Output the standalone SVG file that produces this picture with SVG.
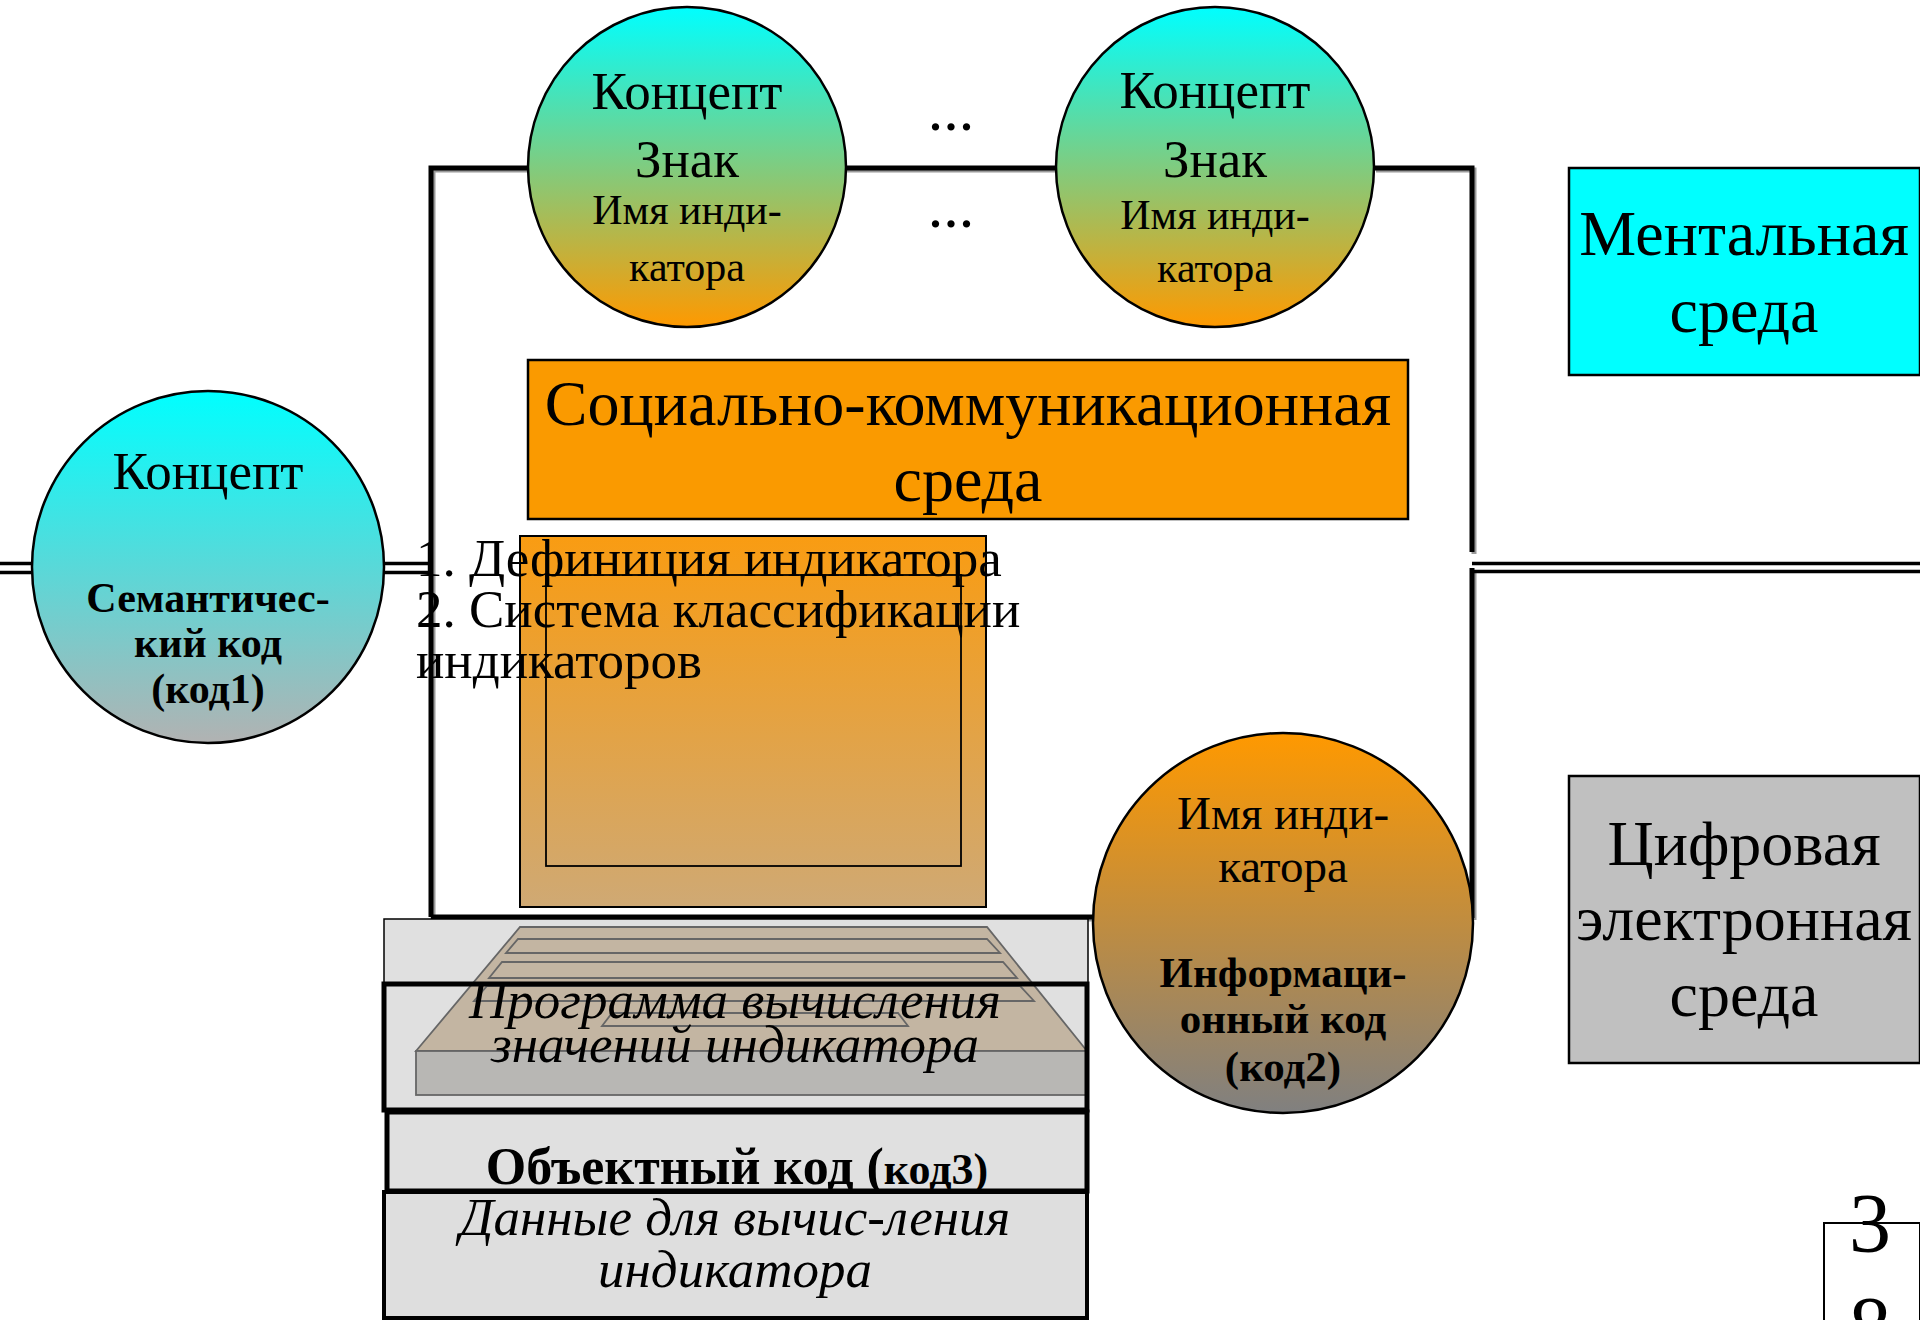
<svg xmlns="http://www.w3.org/2000/svg" width="1920" height="1320" viewBox="0 0 1920 1320">
<defs>
<linearGradient id="gTop" x1="0" y1="0" x2="0" y2="1"><stop offset="0" stop-color="#00FFFF"/><stop offset="1" stop-color="#FF9900"/></linearGradient>
<linearGradient id="gLeft" x1="0" y1="0" x2="0" y2="1"><stop offset="0" stop-color="#00FFFF"/><stop offset="1" stop-color="#B2B2B2"/></linearGradient>
<linearGradient id="gBot" x1="0" y1="0" x2="0" y2="1"><stop offset="0" stop-color="#FF9900"/><stop offset="1" stop-color="#808080"/></linearGradient>
<linearGradient id="gScreen" x1="0" y1="0" x2="0" y2="1"><stop offset="0" stop-color="#F99C12"/><stop offset="1" stop-color="#CFA974"/></linearGradient>
<style>
text{font-family:"Liberation Serif","Times New Roman",serif;fill:#000;}
.c{text-anchor:middle;}
.b{font-weight:bold;}
.i{font-style:italic;}
.frame{fill:none;stroke:#000;stroke-width:5;}
.shadow{fill:none;stroke:#9A9A9A;stroke-width:5;}
.dbl{fill:none;stroke:#000;stroke-width:3.5;}
.node{stroke:#000;stroke-width:2.5;}
.key{fill:#C3B5A2;stroke:#666;stroke-width:1.8;}
.thick{fill:none;stroke:#000;stroke-width:5;}
</style>
</defs>

<g id="connectors">
<path class="shadow" transform="translate(2,2)" d="M431,917 V168 H528 M845,168 H1056 M1374,168 H1472 V552 M1472,568 V918 M431,917 H1093"/>
<path class="frame" d="M431,917 V168 H528 M845,168 H1056 M1374,168 H1472 V552 M1472,568 V918 M431,917 H1093"/>
<path class="dbl" d="M0,563.5 H32 M0,572.5 H32 M384,563.5 H430 M384,572.5 H430 M1472,563.5 H1920 M1472,571.5 H1920"/>
</g>

<g id="dots">
<text class="c" x="951" y="130" font-size="62">...</text>
<text class="c" x="951" y="227" font-size="62">...</text>
</g>

<g id="concept-sign-1">
<ellipse class="node" cx="687" cy="167" rx="159" ry="160" fill="url(#gTop)"/>
<text class="c" x="687" y="109" font-size="53">Концепт</text>
<text class="c" x="687" y="177" font-size="53">Знак</text>
<text class="c" x="687" y="224" font-size="42">Имя инди-</text>
<text class="c" x="687" y="281" font-size="42">катора</text>
</g>

<g id="concept-sign-2">
<ellipse class="node" cx="1215" cy="167" rx="159" ry="160" fill="url(#gTop)"/>
<text class="c" x="1215" y="108" font-size="53">Концепт</text>
<text class="c" x="1215" y="177" font-size="53">Знак</text>
<text class="c" x="1215" y="229" font-size="42">Имя инди-</text>
<text class="c" x="1215" y="282" font-size="42">катора</text>
</g>

<g id="mental">
<rect x="1569" y="168" width="351" height="207" fill="#00FFFF" stroke="#000" stroke-width="2.5"/>
<text class="c" x="1744" y="255" font-size="64">Ментальная</text>
<text class="c" x="1744" y="332" font-size="64">среда</text>
</g>

<g id="social">
<rect x="528" y="360" width="880" height="159" fill="#FA9A00" stroke="#000" stroke-width="2.5"/>
<text class="c" x="968" y="425" font-size="64">Социально-коммуникационная</text>
<text class="c" x="968" y="501" font-size="64">среда</text>
</g>

<g id="semantic">
<ellipse class="node" cx="208" cy="567" rx="176" ry="176" fill="url(#gLeft)"/>
<text class="c" x="208" y="489" font-size="53">Концепт</text>
<text class="c b" x="208" y="612" font-size="42">Семантичес-</text>
<text class="c b" x="208" y="657" font-size="42">кий код</text>
<text class="c b" x="208" y="703" font-size="42">(код1)</text>
</g>

<g id="screen">
<rect x="520" y="536" width="466" height="371" fill="url(#gScreen)" stroke="#000" stroke-width="2"/>
<rect x="546" y="575" width="415" height="291" fill="none" stroke="#000" stroke-width="1.8"/>
</g>

<g id="definition">
<text x="416" y="576" font-size="53">1. Дефиниция индикатора</text>
<text x="416" y="627" font-size="53">2. Система классификации</text>
<text x="416" y="678" font-size="53">индикаторов</text>
</g>

<g id="program">
<rect x="384" y="919" width="704" height="191" fill="#E0E0E0" stroke="#000" stroke-width="1.5"/>
<polygon class="key" points="520,927 987,927 1087,1051 416,1051"/>
<rect class="key" x="416" y="1051" width="671" height="44" style="fill:#B8B7B4"/>
<polygon class="key" points="518,939 987,939 1000,953 506,953"/>
<polygon class="key" points="502,962 1003,962 1017,978 489,978"/>
<polygon class="key" points="487,986 1020,986 1034,1001 474,1001"/>
<polygon class="key" points="612,1013 898,1013 908,1026 602,1026"/>
<rect class="thick" x="384" y="984" width="703" height="126"/>
<text class="c i" x="735" y="1018" font-size="53">Программа вычисления</text>
<text class="c i" x="735" y="1062" font-size="53">значений индикатора</text>
</g>

<g id="object-code">
<rect x="387" y="1112" width="700" height="79" fill="#E0E0E0" stroke="#000" stroke-width="5"/>
<text class="c b" x="737" y="1184" font-size="52">Объектный код (<tspan font-size="44">код3)</tspan></text>
</g>

<g id="data">
<rect x="384" y="1192" width="703" height="126" fill="#DEDEDE" stroke="#000" stroke-width="4"/>
<text class="c i" x="735" y="1235" font-size="53">Данные для вычис-ления</text>
<text class="c i" x="735" y="1287" font-size="53">индикатора</text>
</g>

<g id="info-code">
<ellipse class="node" cx="1283" cy="923" rx="190" ry="190" fill="url(#gBot)"/>
<text class="c" x="1283" y="829" font-size="47">Имя инди-</text>
<text class="c" x="1283" y="882" font-size="47">катора</text>
<text class="c b" x="1283" y="987" font-size="43">Информаци-</text>
<text class="c b" x="1283" y="1033" font-size="43">онный код</text>
<text class="c b" x="1283" y="1081" font-size="43">(код2)</text>
</g>

<g id="digital">
<rect x="1569" y="776" width="351" height="287" fill="#C0C0C0" stroke="#000" stroke-width="2.5"/>
<text class="c" x="1744" y="865" font-size="64">Цифровая</text>
<text class="c" x="1744" y="940" font-size="64">электронная</text>
<text class="c" x="1744" y="1016" font-size="64">среда</text>
</g>

<g id="page-number">
<rect x="1824" y="1223" width="96" height="100" fill="none" stroke="#000" stroke-width="2"/>
<text class="c" x="1870" y="1252" font-size="84">3</text>
<text class="c" x="1870" y="1355" font-size="84">8</text>
</g>
</svg>
